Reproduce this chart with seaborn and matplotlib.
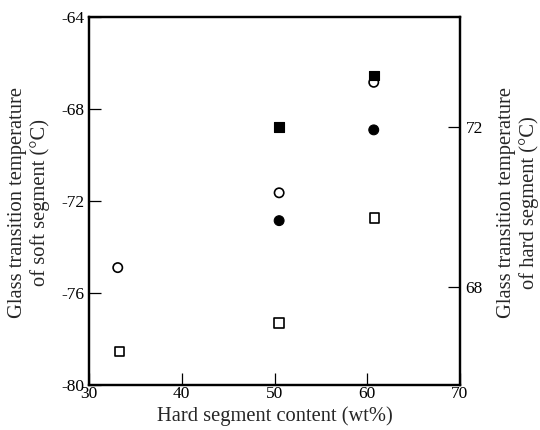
import pandas as pd
import numpy as np
import matplotlib
matplotlib.use("Agg")
import matplotlib.pyplot as plt
import seaborn as sns

# =========================
# Data
# =========================
# soft segment Tg (left axis), open symbols
soft_circle_x = [33.1, 50.5, 60.7]
soft_circle_tg = [-74.9, -71.65, -66.85]
soft_square_x = [33.3, 50.5, 60.8]
soft_square_tg = [-78.55, -77.3, -72.75]

# hard segment Tg (right axis), filled symbols
hard_circle_x = [50.5, 60.7]
hard_circle_tg = [69.65, 71.92]
hard_square_x = [50.5, 60.7]
hard_square_tg = [72.0, 73.28]

x_ticks = [30, 40, 50, 60, 70]
left_ticks = [-80, -76, -72, -68, -64]
right_ticks = [68, 72]

# =========================
# Style
# =========================
sns.set_style("ticks")
plt.rcParams['font.family'] = ['Liberation Serif', 'DejaVu Serif']

fig = plt.figure(figsize=(5.4, 4.3), dpi=100)
ax = fig.add_axes([89 / 540, 1 - 385 / 430, 371 / 540, 368.3 / 430])
ax2 = ax.twinx()

# =========================
# Scatter
# =========================
soft = pd.concat([
    pd.DataFrame({'x': soft_circle_x, 'tg': soft_circle_tg, 'kind': 'circle'}),
    pd.DataFrame({'x': soft_square_x, 'tg': soft_square_tg, 'kind': 'square'}),
])
hard = pd.concat([
    pd.DataFrame({'x': hard_circle_x, 'tg': hard_circle_tg, 'kind': 'circle'}),
    pd.DataFrame({'x': hard_square_x, 'tg': hard_square_tg, 'kind': 'square'}),
])

markers = {'circle': 'o', 'square': 's'}

sns.scatterplot(data=soft, x='x', y='tg', style='kind', markers=markers,
                s=45, facecolor='white', edgecolor='black', linewidth=1.2,
                legend=False, ax=ax, zorder=3)
sns.scatterplot(data=hard, x='x', y='tg', style='kind', markers=markers,
                s=50, color='black', edgecolor='black', linewidth=0.8,
                legend=False, ax=ax2, zorder=4)

# =========================
# Axes
# =========================
ax.set_xlim(30, 70)
ax.set_ylim(-80, -64)
ax2.set_ylim(65.54, 74.75)

ax.set_xticks(x_ticks)
ax.set_yticks(left_ticks)
ax2.set_yticks(right_ticks)
ax.set_xticklabels([str(v) for v in x_ticks])
ax.set_yticklabels([str(v) for v in left_ticks])
ax2.set_yticklabels([str(v) for v in right_ticks])

ax.tick_params(axis='x', direction='in', length=8.5, width=0.9, pad=1,
               labelsize=12.5, colors='black')
ax.tick_params(axis='y', direction='in', length=8.5, width=0.9, pad=3,
               labelsize=12.5, colors='black')
ax2.tick_params(axis='y', direction='in', length=9, width=0.9, pad=4,
                labelsize=12.5, colors='black')

for a in (ax, ax2):
    for sp in a.spines.values():
        sp.set_visible(True)
        sp.set_linewidth(1.6)
        sp.set_color('black')

ax.set_xlabel("Hard segment content (wt%)", fontsize=14.8, labelpad=3)
ax.set_ylabel("")
ax2.set_ylabel("")

fig.text(29 / 540, 1 - 203 / 430,
         "Glass transition temperature\nof soft segment (°C)",
         rotation=90, ha='center', va='center', multialignment='center',
         fontsize=14.8)
fig.text(518 / 540, 1 - 203 / 430,
         "Glass transition temperature\nof hard segment (°C)",
         rotation=90, ha='center', va='center', multialignment='center',
         fontsize=14.8)

fig.savefig("out.png", dpi=100)
